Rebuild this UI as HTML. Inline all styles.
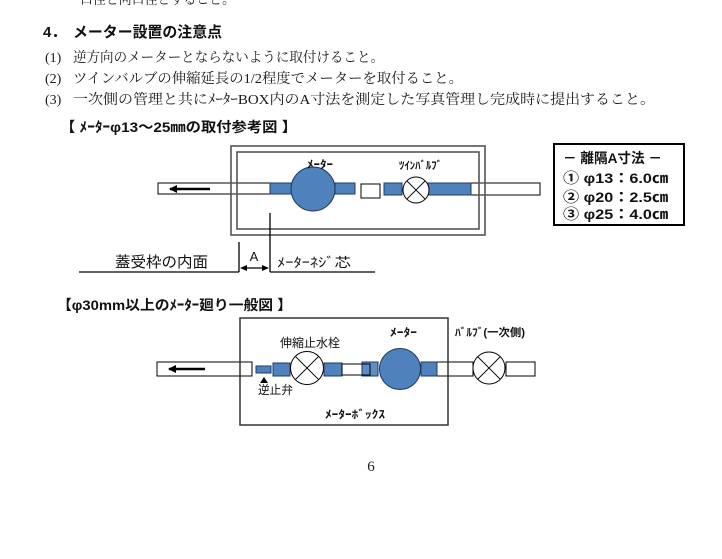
<!DOCTYPE html>
<html><head><meta charset="utf-8">
<style>
html,body{margin:0;padding:0;background:#fff;}
svg{display:block;}
.ser{font-family:"Liberation Serif","Noto Serif CJK JP","Noto Serif CJK SC",serif;fill:#1a1a1a;}
.san{font-family:"Liberation Sans","Noto Sans CJK JP",sans-serif;fill:#111;}
.b{font-weight:bold;}
</style></head>
<body>
<svg width="722" height="559" viewBox="0 0 722 559" xmlns="http://www.w3.org/2000/svg">
<defs>
<marker id="ah" markerWidth="8" markerHeight="8" refX="7" refY="4" orient="auto" markerUnits="userSpaceOnUse">
<path d="M0,0 L8,4 L0,8 z" fill="#000"/>
</marker>
</defs>
<rect width="722" height="559" fill="#fff"/>

<!-- top text -->
<text class="ser" x="80" y="4" font-size="14" textLength="155" lengthAdjust="spacingAndGlyphs">口径と同口径とすること。</text>
<text class="san b" x="43" y="37" font-size="15">4．</text>
<text class="san b" x="73" y="37" font-size="15" textLength="149" lengthAdjust="spacingAndGlyphs">メーター設置の注意点</text>
<text class="ser" x="45" y="62" font-size="14">(1)</text>
<text class="ser" x="73" y="62" font-size="14" textLength="311" lengthAdjust="spacingAndGlyphs">逆方向のメーターとならないように取付けること。</text>
<text class="ser" x="45" y="83" font-size="14">(2)</text>
<text class="ser" x="73" y="83" font-size="14" textLength="390" lengthAdjust="spacingAndGlyphs">ツインバルブの伸縮延長の1/2程度でメーターを取付ること。</text>
<text class="ser" x="45" y="104" font-size="14">(3)</text>
<text class="ser" x="73" y="104" font-size="14" textLength="582" lengthAdjust="spacingAndGlyphs">一次側の管理と共にﾒｰﾀｰBOX内のA寸法を測定した写真管理し完成時に提出すること。</text>

<text class="san b" x="60" y="132" font-size="14" textLength="237" lengthAdjust="spacingAndGlyphs">【 ﾒｰﾀｰφ13～25㎜の取付参考図 】</text>

<!-- diagram 1 -->
<rect x="158" y="183" width="112" height="11" fill="#fff" stroke="#000" stroke-width="1"/>
<rect x="471" y="183" width="69" height="12" fill="#fff" stroke="#000" stroke-width="1"/>
<rect x="231" y="146" width="254" height="89" fill="none" stroke="#555" stroke-width="1.6"/>
<rect x="237" y="152" width="242" height="77" fill="none" stroke="#555" stroke-width="1.6"/>
<line x1="210" y1="189" x2="170" y2="189" stroke="#000" stroke-width="2.5" marker-end="url(#ah)"/>

<rect x="270" y="183" width="22" height="11" fill="#4f81bd" stroke="#1f3a5f" stroke-width="1"/>
<circle cx="313" cy="189" r="22" fill="#4f81bd" stroke="#1f3a5f" stroke-width="1"/>
<rect x="335" y="183" width="20" height="11" fill="#4f81bd" stroke="#1f3a5f" stroke-width="1"/>
<rect x="361" y="184" width="19" height="14" fill="#fff" stroke="#000" stroke-width="1"/>
<rect x="384" y="183" width="18" height="12" fill="#4f81bd" stroke="#1f3a5f" stroke-width="1"/>
<rect x="428" y="183" width="43" height="12" fill="#4f81bd" stroke="#1f3a5f" stroke-width="1"/>
<circle cx="416" cy="190" r="13" fill="#fff" stroke="#000" stroke-width="1"/>
<line x1="406.8" y1="180.8" x2="425.2" y2="199.2" stroke="#000" stroke-width="1"/>
<line x1="425.2" y1="180.8" x2="406.8" y2="199.2" stroke="#000" stroke-width="1"/>

<text class="san b" x="307" y="168" font-size="11" textLength="26" lengthAdjust="spacingAndGlyphs">ﾒｰﾀｰ</text>
<text class="san b" x="399" y="169" font-size="11" textLength="43" lengthAdjust="spacingAndGlyphs">ﾂｲﾝﾊﾞﾙﾌﾞ</text>

<!-- dimension A -->
<line x1="270" y1="213" x2="270" y2="272" stroke="#000" stroke-width="1.3"/>
<line x1="270" y1="272" x2="375" y2="272" stroke="#000" stroke-width="1.3"/>
<line x1="239" y1="242" x2="239" y2="272" stroke="#000" stroke-width="1.3"/>
<line x1="79" y1="272" x2="239" y2="272" stroke="#000" stroke-width="1.3"/>
<line x1="244" y1="268" x2="265" y2="268" stroke="#000" stroke-width="1.2"/>
<path d="M240,268 L247,265 L247,271 z" fill="#000"/>
<path d="M269,268 L262,265 L262,271 z" fill="#000"/>
<text class="san" x="254" y="261" font-size="13" text-anchor="middle">A</text>
<text class="san" x="115" y="267" font-size="15" textLength="93" lengthAdjust="spacingAndGlyphs">蓋受枠の内面</text>
<text class="san" x="277" y="267" font-size="13" textLength="74" lengthAdjust="spacingAndGlyphs">ﾒｰﾀｰﾈｼﾞ芯</text>

<!-- legend -->
<rect x="554" y="144" width="130" height="81" fill="#fff" stroke="#000" stroke-width="2"/>
<text class="san b" x="563" y="163" font-size="14" textLength="99" lengthAdjust="spacingAndGlyphs">－ 離隔A寸法 －</text>
<text class="san b" x="563" y="183" font-size="14" textLength="105" lengthAdjust="spacingAndGlyphs">① φ13：6.0㎝</text>
<text class="san b" x="563" y="202" font-size="14" textLength="105" lengthAdjust="spacingAndGlyphs">② φ20：2.5㎝</text>
<text class="san b" x="563" y="219" font-size="14" textLength="105" lengthAdjust="spacingAndGlyphs">③ φ25：4.0㎝</text>

<!-- header 2 -->
<text class="san b" x="57" y="310" font-size="14" textLength="235" lengthAdjust="spacingAndGlyphs">【φ30mm以上のﾒｰﾀｰ廻り一般図 】</text>

<!-- diagram 2 -->
<rect x="157" y="362" width="95" height="14" fill="#fff" stroke="#000" stroke-width="1"/>
<rect x="437" y="362" width="36" height="14" fill="#fff" stroke="#000" stroke-width="1"/>
<rect x="506" y="362" width="29" height="14" fill="#fff" stroke="#000" stroke-width="1"/>
<rect x="240" y="318" width="208" height="107" fill="none" stroke="#333" stroke-width="1.5"/>
<line x1="205" y1="369" x2="169" y2="369" stroke="#000" stroke-width="2.5" marker-end="url(#ah)"/>

<rect x="256" y="366" width="15" height="7" fill="#4f81bd" stroke="#1f3a5f" stroke-width="1"/>
<path d="M264,377 L260,383 L268,383 z" fill="#000"/>
<text class="san" x="258" y="394" font-size="12" textLength="35" lengthAdjust="spacingAndGlyphs">逆止弁</text>

<rect x="273" y="363" width="17" height="13" fill="#4f81bd" stroke="#1f3a5f" stroke-width="1"/>
<circle cx="307" cy="368" r="16.5" fill="#fff" stroke="#000" stroke-width="1"/>
<line x1="295.3" y1="356.3" x2="318.7" y2="379.7" stroke="#000" stroke-width="1"/>
<line x1="318.7" y1="356.3" x2="295.3" y2="379.7" stroke="#000" stroke-width="1"/>
<rect x="324" y="363" width="18" height="13" fill="#4f81bd" stroke="#1f3a5f" stroke-width="1"/>
<rect x="342" y="364" width="28" height="11" fill="#fff" stroke="#000" stroke-width="1"/>
<rect x="362" y="362" width="16" height="14" fill="#4f81bd" fill-opacity="0.9" stroke="#1f3a5f" stroke-width="1"/>
<rect x="342" y="364" width="28" height="11" fill="none" stroke="#000" stroke-width="1"/>
<circle cx="400" cy="369" r="20.5" fill="#4f81bd" stroke="#1f3a5f" stroke-width="1"/>
<rect x="421" y="362" width="16" height="14" fill="#4f81bd" stroke="#1f3a5f" stroke-width="1"/>
<circle cx="489" cy="368" r="16" fill="#fff" stroke="#000" stroke-width="1"/>
<line x1="477.7" y1="356.7" x2="500.3" y2="379.3" stroke="#000" stroke-width="1"/>
<line x1="500.3" y1="356.7" x2="477.7" y2="379.3" stroke="#000" stroke-width="1"/>

<text class="san" x="280" y="347" font-size="12" textLength="60" lengthAdjust="spacingAndGlyphs">伸縮止水栓</text>
<text class="san b" x="390" y="336" font-size="11" textLength="27" lengthAdjust="spacingAndGlyphs">ﾒｰﾀｰ</text>
<text class="san b" x="455" y="336" font-size="11" textLength="70" lengthAdjust="spacingAndGlyphs">ﾊﾞﾙﾌﾞ(一次側)</text>
<text class="san b" x="325" y="418" font-size="11" textLength="60" lengthAdjust="spacingAndGlyphs">ﾒｰﾀｰﾎﾞｯｸｽ</text>

<!-- page number -->
<text class="ser" x="371" y="471" font-size="15" text-anchor="middle">6</text>
</svg>
</body></html>
